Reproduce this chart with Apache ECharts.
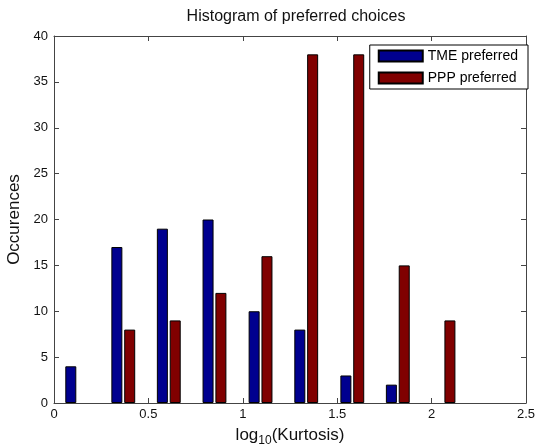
<!DOCTYPE html>
<html>
<head>
<meta charset="utf-8">
<script src="https://cdn.jsdelivr.net/npm/echarts@6/dist/echarts.min.js"></script>
<style>
html, body { margin: 0; padding: 0; background: #fff; }
#main { width: 537px; height: 447px; }
</style>
</head>
<body>
<div id="main"></div>
<script>
// bin centres of the histogram (log10 kurtosis)
var binCenters = [0.123, 0.367, 0.608, 0.850, 1.094, 1.336, 1.580, 1.821, 2.063];
var tmeCounts = [4, 17, 19, 20, 10, 8, 3, 2, 0];
var pppCounts = [0, 8, 9, 12, 16, 38, 38, 15, 9];
var seriesNames = ['TME preferred', 'PPP preferred'];

var half = 0.034; // half the gap between the two bars of a group

// empty bins draw nothing
function pairs(vals, shift) {
	var out = [];
	vals.forEach(function (v, i) {
		if (v > 0) out.push([binCenters[i] + shift, v]);
	});
	return out;
}

var chart = echarts.init(document.getElementById('main'));

var font = 'Liberation Sans, Arial, sans-serif';
var axisCol = '#444';

function boxAxis(extra) {
	var ax = {
		type: 'value',
		axisLine: { show: true, onZero: false, lineStyle: { color: axisCol } },
		axisTick: { show: true, inside: true, length: 5, lineStyle: { color: axisCol } },
		axisLabel: { show: false },
		splitLine: { show: false }
	};
	for (var k in extra) ax[k] = extra[k];
	return ax;
}

var option = {
	backgroundColor: '#fff',
	animation: false,
	title: {
		text: 'Histogram of preferred choices',
		left: 291,
		top: 4,
		textAlign: 'center',
		textStyle: { fontFamily: font, fontSize: 16, fontWeight: 'normal', color: '#111' }
	},
	legend: {
		data: seriesNames,
		orient: 'vertical',
		right: 9,
		top: 45,
		padding: [4, 10, 4, 8],
		itemWidth: 44,
		itemHeight: 11,
		itemGap: 8,
		backgroundColor: '#fff',
		borderColor: '#000',
		borderWidth: 1,
		icon: 'rect',
		textStyle: { fontFamily: font, fontSize: 14, color: '#000' }
	},
	grid: { left: 54, right: 11, top: 36, bottom: 44, containLabel: false, outerBoundsMode: 'none' },
	xAxis: [
		boxAxis({
			min: 0, max: 2.5, interval: 0.5,
			name: '{a|log}{s|10}{a|(Kurtosis)}',
			nameLocation: 'middle',
			nameGap: 20,
			nameTextStyle: {
				rich: {
					a: { fontFamily: font, fontSize: 17, color: '#111' },
					s: { fontFamily: font, fontSize: 12, color: '#111', padding: [12, 0, 0, 0] }
				}
			},
			axisLabel: { fontFamily: font, fontSize: 13, color: '#111', margin: 5 }
		}),
		boxAxis({ position: 'top', min: 0, max: 2.5, interval: 0.5 })
	],
	yAxis: [
		boxAxis({
			min: 0, max: 40, interval: 5,
			name: 'Occurences',
			nameLocation: 'middle',
			nameGap: 25,
			nameTextStyle: { fontFamily: font, fontSize: 17, color: '#111' },
			axisLabel: { fontFamily: font, fontSize: 13, color: '#111', margin: 6 }
		}),
		boxAxis({ position: 'right', min: 0, max: 40, interval: 5 })
	],
	series: [{
		name: seriesNames[0],
		type: 'bar',
		barWidth: 11,
		barGap: '-100%',
		itemStyle: { color: '#00008f', borderColor: '#000', borderWidth: 1 },
		data: pairs(tmeCounts, -half)
	}, {
		name: seriesNames[1],
		type: 'bar',
		barWidth: 11,
		barGap: '-100%',
		itemStyle: { color: '#800000', borderColor: '#000', borderWidth: 1 },
		data: pairs(pppCounts, half)
	}]
};

chart.setOption(option);
</script>
</body>
</html>
